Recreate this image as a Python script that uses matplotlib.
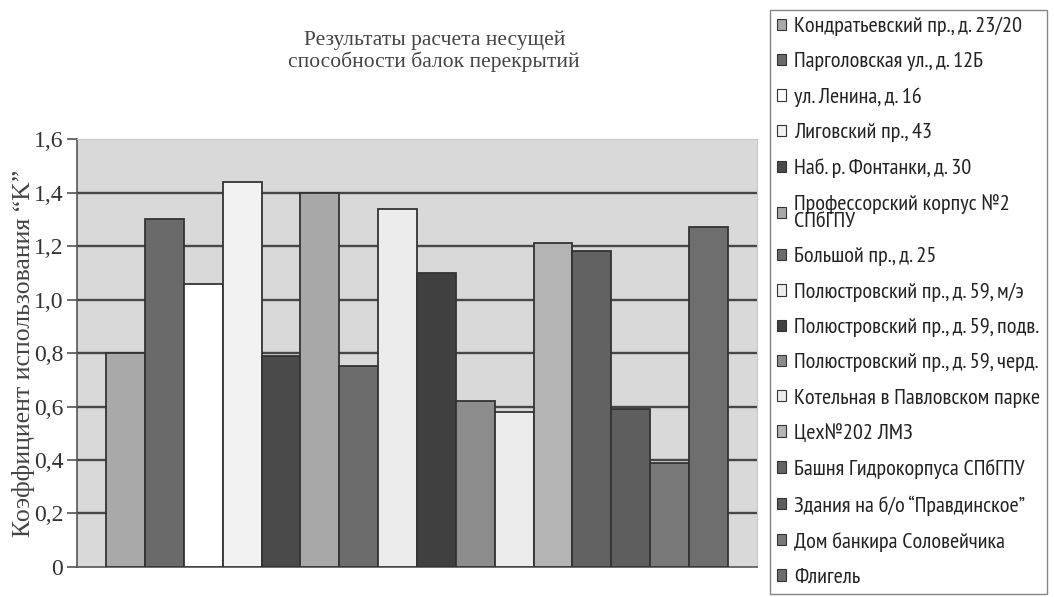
import numpy as np
import matplotlib.pyplot as plt
from matplotlib.patches import Patch

buildings = [
    "Кондратьевский пр., д. 23/20",
    "Парголовская ул., д. 12Б",
    "ул. Ленина, д. 16",
    "Лиговский пр., 43",
    "Наб. р. Фонтанки, д. 30",
    "Профессорский корпус №2\nСПбГПУ",
    "Большой пр., д. 25",
    "Полюстровский пр., д. 59, м/э",
    "Полюстровский пр., д. 59, подв.",
    "Полюстровский пр., д. 59, черд.",
    "Котельная в Павловском парке",
    "Цех№202 ЛМЗ",
    "Башня Гидрокорпуса СПбГПУ",
    "Здания на б/о “Правдинское”",
    "Дом банкира Соловейчика",
    "Флигель",
]
k_values = [0.80, 1.30, 1.06, 1.44, 0.79, 1.40, 0.75, 1.34,
            1.10, 0.62, 0.58, 1.21, 1.18, 0.59, 0.39, 1.27]
shades = ["#a9a9a9", "#6a6a6a", "#ffffff", "#f2f2f2", "#4a4a4a", "#a8a8a8",
          "#6c6c6c", "#ececec", "#404040", "#8c8c8c", "#ececec", "#b4b4b4",
          "#626262", "#5e5e5e", "#787878", "#6e6e6e"]
y_ticks = [0, 0.2, 0.4, 0.6, 0.8, 1.0, 1.2, 1.4, 1.6]
y_labels = ["0", "0,2", "0,4", "0,6", "0,8", "1,0", "1,2", "1,4", "1,6"]

serif = ["Liberation Serif", "DejaVu Serif"]
narrow = ["PT Sans Narrow", "Roboto Condensed", "DejaVu Sans"]

fig = plt.figure(figsize=(10.54, 5.97), dpi=100)
ax = fig.add_axes([0.0731, 0.0503, 0.645, 0.7167])
ax.set_facecolor("#d9d9d9")

x = np.arange(len(k_values))
ax.bar(x, k_values, width=1.0, color=shades, edgecolor="#333333",
       linewidth=1.3, zorder=3)

for y in y_ticks[1:-1]:
    ax.axhline(y, color="#474747", linewidth=1.7, zorder=1)

ax.set_xlim(-1.25, 16.25)
ax.set_ylim(0, 1.6)
ax.set_xticks([])
ax.set_yticks(y_ticks)
ax.set_yticklabels(y_labels, family=serif, fontsize=17, color="#333333")
ax.tick_params(axis="y", length=7, width=1.2, color="#555555", pad=3)
for side in ["top", "right"]:
    ax.spines[side].set_color("#c8c8c8")
    ax.spines[side].set_linewidth(0.8)
for side in ["left", "bottom"]:
    ax.spines[side].set_color("#555555")
    ax.spines[side].set_linewidth(1.2)

ax.set_ylabel("Коэффициент использования “K”", family=serif, fontsize=18.5,
              color="#444444")
ax.yaxis.set_label_coords(-0.062, 0.5)

fig.text(0.412, 0.914, "Результаты расчета несущей\nспособности балок перекрытий",
         ha="center", va="center", family=serif, fontsize=15.5,
         color="#444444", linespacing=1.1)

# legend box has a fixed width; the longest labels run up to its edge
handles = [Patch(facecolor=c, edgecolor="#333333", linewidth=0.8) for c in shades]
leg = fig.legend(handles, buildings, loc="upper left", mode="expand",
                 bbox_to_anchor=(0.731, 0.0117, 0.2628, 0.9713), borderaxespad=0,
                 prop={"family": narrow, "size": 16},
                 handlelength=0.4, handleheight=0.4, handletextpad=0.35,
                 labelspacing=0.73, borderpad=0.3, fancybox=False,
                 frameon=True, edgecolor="#666666")
leg.get_frame().set_linewidth(1.0)
for t in leg.get_texts():
    t.set_color("#222222")
    t.set_linespacing(0.85)

fig.savefig("out.png", dpi=100)
